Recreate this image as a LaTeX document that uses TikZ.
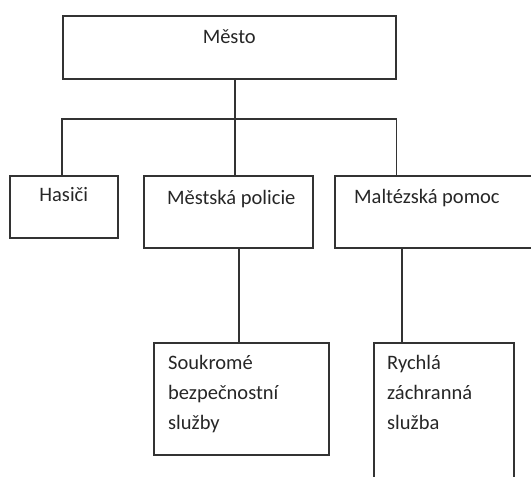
\documentclass[tikz,border=0pt]{standalone}
\usepackage{fontspec}
\setmainfont{Carlito}
\tikzset{
  orgbox/.style={draw=black!80, line width=1.5pt, inner sep=0pt, anchor=north west},
  boxtext/.style={font=\fontsize{20.5}{30}\selectfont, text=black!85, inner sep=0pt, align=left},
  link/.style={draw=black!80, line width=1.5pt}
}
\begin{document}
\begin{tikzpicture}[x=1pt, y=-1pt]
    \useasboundingbox (0,0) rectangle (531,477);
    \clip (0,0) rectangle (531,477);

    % top level
    \node[orgbox, minimum width=333pt, minimum height=63pt,
          label={[boxtext, anchor=base, yshift=-28pt]north:Město}] (mesto) at (62,15) {};

    % second level
    \node[orgbox, minimum width=108pt, minimum height=62pt,
          label={[boxtext, anchor=base, yshift=-26pt]north:Hasiči}] (hasici) at (9,175) {};
    \node[orgbox, minimum width=169pt, minimum height=72pt,
          label={[boxtext, anchor=base, xshift=3pt, yshift=-29pt]north:Městská policie}] (policie) at (143,175) {};
    \node[orgbox, minimum width=210pt, minimum height=72pt,
          label={[boxtext, anchor=base west, xshift=20pt, yshift=-28pt]north west:Maltézská pomoc}] (maltez) at (334,175) {};

    % third level (base = last line, so three lines down)
    \node[orgbox, minimum width=175pt, minimum height=112pt,
          label={[boxtext, anchor=base west, xshift=15pt, yshift=-87pt]north west:{Soukromé\\bezpečnostní\\služby}}] (soukrome) at (153,342) {};
    \node[orgbox, minimum width=140pt, minimum height=150pt,
          label={[boxtext, anchor=base west, xshift=14pt, yshift=-87pt]north west:{Rychlá\\záchranná\\služba}}] (rychla) at (373,342) {};

    % connectors
    \coordinate (bus) at (235,119);
    \coordinate (polout) at ([xshift=10.5pt]policie.south);
    \coordinate (maltout) at ([xshift=-38pt]maltez.south);
    \draw[link] (mesto.south -| bus) -- (bus);
    \draw[link] (mesto.west |- hasici.north) -- (mesto.west |- bus) -- (mesto.east |- bus) -- (mesto.east |- maltez.north);
    \draw[link] (bus) -- (bus |- policie.north);
    \draw[link] (polout) -- (polout |- soukrome.north);
    \draw[link] (maltout) -- (maltout |- rychla.north);
\end{tikzpicture}
\end{document}
